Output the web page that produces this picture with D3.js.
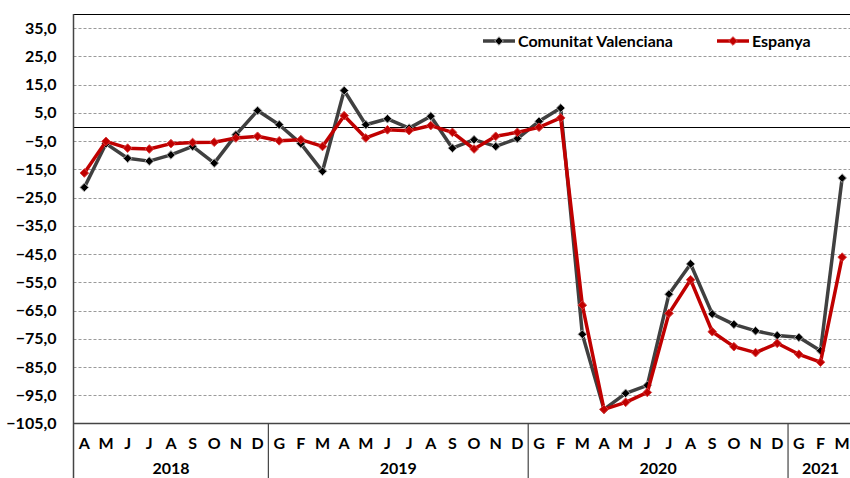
<!DOCTYPE html>
<meta charset="utf-8">
<style>
  body { margin: 0; background: #fff; }
  text { font-family: Lato, "Open Sans", sans-serif; font-weight: bold; fill: #000; }
</style>
<body>
<script src="https://d3js.org/d3.v7.min.js"></script>
<script>
// months from April 2018 to March 2021
var months = ["A","M","J","J","A","S","O","N","D",
              "G","F","M","A","M","J","J","A","S","O","N","D",
              "G","F","M","A","M","J","J","A","S","O","N","D",
              "G","F","M"];
var years = [{label: "2018", start: 0, n: 9},
             {label: "2019", start: 9, n: 12},
             {label: "2020", start: 21, n: 12},
             {label: "2021", start: 33, n: 3}];
var valenciana = [-21.4, -5.9, -11.1, -12.1, -9.9, -6.9, -12.8, -2.8, 5.8,
                  0.8, -5.9, -15.7, 12.9, 0.8, 2.9, -0.4, 3.8, -7.5, -4.5, -6.9, -4.1,
                  2.0, 6.7, -73.4, -100.0, -94.3, -91.5, -59.2, -48.5, -66.2, -69.9, -72.2, -73.8,
                  -74.5, -79.2, -18.1];
var espanya = [-16.3, -5.1, -7.5, -7.8, -5.9, -5.5, -5.4, -3.9, -3.3,
               -4.9, -4.5, -6.9, 4.0, -3.9, -1.0, -1.3, 0.5, -1.9, -7.8, -3.3, -1.9,
               -0.1, 3.2, -63.1, -100.0, -97.5, -94.0, -66.0, -54.1, -72.5, -77.8, -79.9, -76.6,
               -80.5, -83.3, -46.1];
var yTicks = [35, 25, 15, 5, -5, -15, -25, -35, -45, -55, -65, -75, -85, -95, -105];

var width = 850, height = 478;
var plotLeft = 73.5, plotRight = 853, plotTop = 14, plotBottom = 423.5;

var svg = d3.select("body").append("svg")
    .attr("width", width)
    .attr("height", height);

var x = d3.scaleBand()
    .domain(d3.range(months.length))
    .range([plotLeft, plotRight]);

var y = d3.scaleLinear()
    .domain([-105, 40])
    .range([plotBottom, plotTop]);

// dashed gridlines
svg.append("g").selectAll("line")
  .data(yTicks.filter(function(d) { return d > -105; }))
  .enter().append("line")
    .attr("x1", plotLeft).attr("x2", width)
    .attr("y1", function(d) { return Math.round(y(d)) + 0.5; })
    .attr("y2", function(d) { return Math.round(y(d)) + 0.5; })
    .attr("stroke", "#9a9a9a")
    .attr("stroke-dasharray", "3,2");

// y axis labels
var yAxis = d3.axisLeft(y).tickValues(yTicks).tickSize(0).tickPadding(17)
    .tickFormat(function(d) { return d3.format(".1f")(d).replace(".", ","); });
var ya = svg.append("g").attr("transform", "translate(" + plotLeft + ",0)").call(yAxis);
ya.select(".domain").remove();
ya.selectAll("text").style("font-size", "16px").attr("fill", "#000");

// zero line
svg.append("line")
    .attr("x1", plotLeft).attr("x2", width)
    .attr("y1", Math.round(y(0)) + 0.5).attr("y2", Math.round(y(0)) + 0.5)
    .attr("stroke", "#000").attr("stroke-width", 1);

// frame
svg.append("line").attr("x1", plotLeft).attr("x2", width).attr("y1", plotTop + 0.5).attr("y2", plotTop + 0.5)
    .attr("stroke", "#000");
svg.append("line").attr("x1", plotLeft).attr("x2", width).attr("y1", plotBottom).attr("y2", plotBottom)
    .attr("stroke", "#444").attr("stroke-width", 1.5);
svg.append("line").attr("x1", plotLeft).attr("x2", plotLeft).attr("y1", plotTop).attr("y2", height)
    .attr("stroke", "#444").attr("stroke-width", 1.5);

// year separators
svg.append("g").selectAll("line")
  .data(years.slice(1))
  .enter().append("line")
    .attr("x1", function(d) { return x(d.start); })
    .attr("x2", function(d) { return x(d.start); })
    .attr("y1", plotBottom).attr("y2", height)
    .attr("stroke", "#444").attr("stroke-width", 1.2);

// month labels
svg.append("g").selectAll("text")
  .data(months)
  .enter().append("text")
    .attr("x", function(d, i) { return x(i) + x.bandwidth() / 2; })
    .attr("y", 448.5)
    .attr("text-anchor", "middle")
    .style("font-size", "16px")
    .text(function(d) { return d; });

// year labels
svg.append("g").selectAll("text")
  .data(years)
  .enter().append("text")
    .attr("x", function(d) { return x(d.start) + d.n * x.bandwidth() / 2; })
    .attr("y", 474)
    .attr("text-anchor", "middle")
    .style("font-size", "16px")
    .text(function(d) { return d.label; });

var line = d3.line()
    .x(function(d, i) { return x(i) + x.bandwidth() / 2; })
    .y(function(d) { return y(d); });

var diamond = d3.symbol().type(d3.symbolDiamond2).size(48);

function drawSeries(data, color, marker, outline) {
  var g = svg.append("g");
  g.append("path")
    .datum(data)
    .attr("d", line)
    .attr("fill", "none")
    .attr("stroke", color)
    .attr("stroke-width", 3.5)
    .attr("stroke-linejoin", "round");
  g.selectAll("path.pt")
    .data(data)
    .enter().append("path")
      .attr("class", "pt")
      .attr("d", diamond)
      .attr("transform", function(d, i) {
        return "translate(" + (x(i) + x.bandwidth() / 2) + "," + y(d) + ")";
      })
      .attr("fill", marker)
      .attr("stroke", outline)
      .attr("stroke-width", 1);
}

drawSeries(valenciana, "#404040", "#000", "#b0b0b0");
drawSeries(espanya, "#c00000", "#c00000", "#d84040");

// legend
var legend = [{name: "Comunitat Valenciana", color: "#404040", marker: "#000", outline: "#b0b0b0", x: 483},
              {name: "Espanya", color: "#c00000", marker: "#c00000", outline: "#d84040", x: 717}];
var lg = svg.append("g").selectAll("g")
  .data(legend)
  .enter().append("g")
    .attr("transform", function(d) { return "translate(" + d.x + ",41)"; });
lg.append("line")
    .attr("x1", 0).attr("x2", 32)
    .attr("stroke", function(d) { return d.color; })
    .attr("stroke-width", 3.5);
lg.append("path")
    .attr("d", diamond)
    .attr("transform", "translate(16,0)")
    .attr("fill", function(d) { return d.marker; })
    .attr("stroke", function(d) { return d.outline; });
lg.append("text")
    .attr("x", 35)
    .attr("y", 5.5)
    .style("font-size", "16px")
    .text(function(d) { return d.name; });
</script>
</body>
</html>
